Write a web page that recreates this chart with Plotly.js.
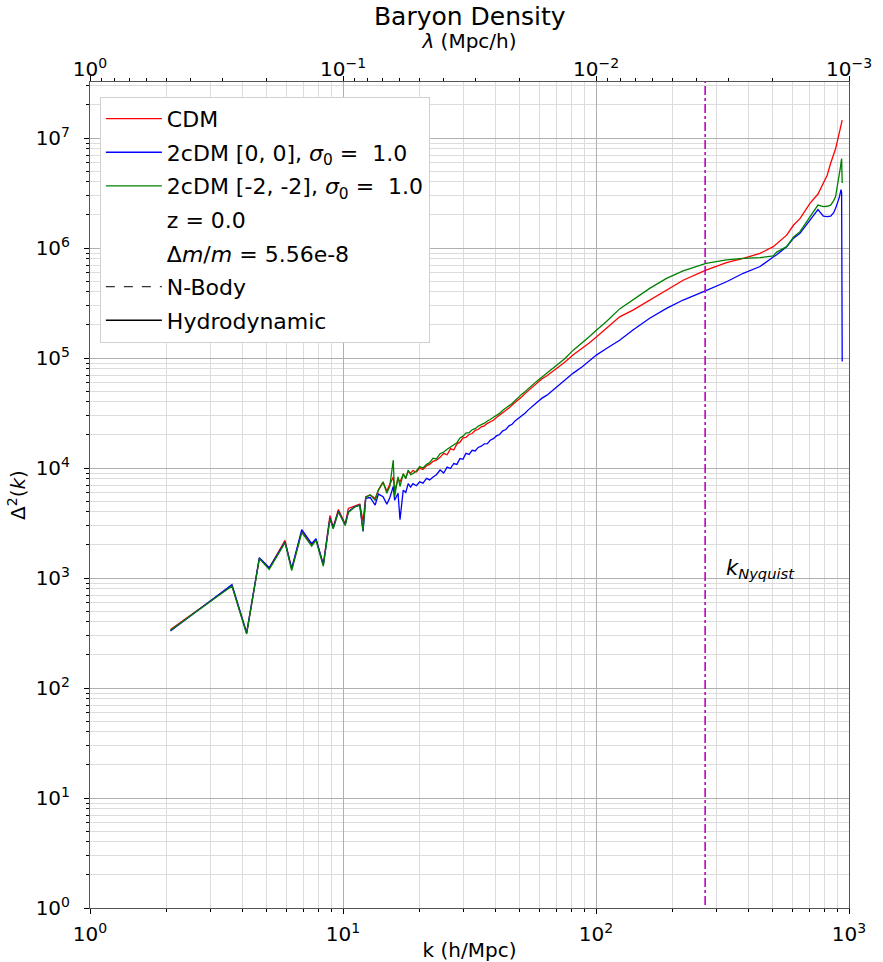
<!DOCTYPE html>
<html>
<head>
<meta charset="utf-8">
<script src="https://cdn.plot.ly/plotly-3.0.1.min.js"></script>
<style>html,body{margin:0;padding:0;background:#fff;}#chart{width:883px;height:962px;}</style>
</head>
<body>
<div id="chart"></div>
<script>
// wavenumber bins k (h/Mpc)
const k = [2.08, 3.64, 4.16, 4.67, 5.11, 5.90, 6.27, 6.87, 7.52, 7.82, 8.36, 8.88, 9.15, 9.59, 10.2, 10.5, 11.1, 11.65, 12.0,
  12.3, 12.8, 13.4, 13.8, 14.4, 14.9, 15.3, 15.8, 16.0, 16.5, 16.8, 17.3, 17.7, 18.1, 18.5, 18.9, 19.5, 20.1, 20.7, 21.4, 22.0,
  22.7, 23.4, 24.2, 25.0, 25.8, 26.6, 27.4, 28.2, 29.0, 29.8, 30.6, 31.5, 32.4, 33.3, 34.2, 35.2, 36.2, 37.2, 38.2, 39.3, 40.4,
  41.6, 42.8, 44.0, 45.3, 46.6, 48.0, 49.4, 50.9, 52.4, 54, 55.6, 57.3, 59, 61, 64, 70,
  75, 81.3, 88, 94, 100.6, 110, 124, 140, 163, 190, 221, 272, 328, 382, 445, 502, 518, 567, 604, 640, 701, 754, 792, 820, 846,
  870, 885, 895, 907, 917, 926, 930, 935, 940];

const cdm = [340, 850, 314, 1510, 1230, 2200, 1210, 2650, 2000, 2250, 1330, 3700, 2900, 4200, 3100, 4300, 4500, 4700, 3300,
  5500, 5700, 5300, 6300, 7400, 6200, 7000, 8300, 6200, 8000, 7500, 8700, 8200, 9300, 9000, 9500, 9200, 10000, 9700, 10500, 10800,
  11500, 11800, 12500, 13600, 13200, 15000, 14600, 16600, 17200, 18800, 19000, 20200, 20600, 22000, 22400, 23700, 24200, 25500, 26200, 27200, 28800,
  30300, 31500, 33500, 35200, 37400, 39500, 42000, 44500, 47500, 50500, 53500, 57000, 61000, 64500, 69000, 80600,
  91000, 107000, 122000, 137000, 156000, 185000, 237000, 273000, 337000, 415000, 510000, 630000, 736000, 805000, 895000, 1030000, 1100000, 1310000, 1620000, 1850000, 2550000, 3100000, 3900000, 4600000, 5900000,
  7000000, 8000000, 8900000, 10000000, 11200000, 12500000, 13000000, 13800000, 14600000];

const c2dm00 = [330, 870, 318, 1530, 1240, 2120, 1220, 2750, 2050, 2280, 1320, 3500, 2850, 4050, 3050, 4000, 4450, 4600, 2650,
  5300, 5400, 4600, 5800, 5500, 4700, 5350, 6800, 5100, 5900, 3400, 6300, 6000, 7200, 6700, 7200, 6900, 7500, 7300, 8050, 7800,
  8300, 8700, 9600, 9000, 10200, 9900, 11000, 10800, 12200, 12000, 13600, 13300, 14500, 14300, 15400, 15800, 16600, 16700, 17900, 18500, 19600,
  20200, 21800, 22400, 24200, 25000, 27000, 28300, 30200, 31500, 33800, 35500, 38000, 40300, 43000, 46000, 55000,
  62000, 73000, 83000, 94000, 107000, 122000, 145000, 180000, 230000, 283000, 337000, 410000, 494000, 590000, 680000, 830000, 870000, 1030000, 1230000, 1360000, 1800000, 2240000, 1950000, 1930000, 1950000,
  2100000, 2300000, 2450000, 2700000, 2940000, 3200000, 3400000, 3200000, 93000];

const c2dm22 = [335, 845, 310, 1500, 1200, 2100, 1170, 2600, 1950, 2200, 1280, 3450, 2800, 4000, 3000, 3950, 4400, 4600, 2700,
  5400, 5700, 5100, 6300, 7500, 5900, 6800, 11800, 5500, 8300, 6800, 8900, 8000, 9600, 8700, 8900, 9400, 10300, 10000, 10800, 11200,
  12300, 12100, 13500, 14000, 14800, 15600, 16400, 17000, 18800, 19500, 20800, 21000, 22300, 22800, 24000, 24700, 25600, 26800, 27600, 29000, 30200,
  31400, 33500, 34800, 36800, 38600, 41500, 44000, 47000, 49500, 53000, 55800, 59500, 63000, 67000, 72000, 86000,
  98000, 118000, 136000, 156000, 180000, 215000, 280000, 337000, 430000, 530000, 620000, 726000, 780000, 805000, 820000, 850000, 920000, 1030000, 1260000, 1410000, 1930000, 2460000, 2380000, 2400000, 2460000,
  2700000, 2940000, 3400000, 3900000, 4450000, 5500000, 6000000, 6500000, 3900000];

const kNyquist = 270;
const yTickVals = [1, 10, 100, 1e3, 1e4, 1e5, 1e6, 1e7];
const yTickText = ['10<sup>0</sup>', '10<sup>1</sup>', '10<sup>2</sup>', '10<sup>3</sup>', '10<sup>4</sup>', '10<sup>5</sup>', '10<sup>6</sup>', '10<sup>7</sup>'];
const kTickVals = [1, 10, 100, 1000];
const kTickText = ['10<sup>0</sup>', '10<sup>1</sup>', '10<sup>2</sup>', '10<sup>3</sup>'];
const lamTickVals = [1, 0.1, 0.01, 0.001];
const lamTickText = ['10<sup>0</sup>', '10<sup>\u22121</sup>', '10<sup>\u22122</sup>', '10<sup>\u22123</sup>'];

function minorVals(lo, hi) {
  const v = [];
  for (let e = lo; e < hi; e++) for (let m = 2; m <= 9; m++) v.push(m * Math.pow(10, e));
  return v;
}

const font = 'DejaVu Sans, sans-serif';
const traces = [
  {x: k, y: cdm, name: 'CDM', mode: 'lines', line: {color: '#ff0000', width: 1.3}, legendgroup: 'a'},
  {x: k, y: c2dm00, name: '2cDM [0, 0], <i>σ</i><sub>0</sub> =  1.0', mode: 'lines', line: {color: '#0000ff', width: 1.3}, legendgroup: 'b'},
  {x: k, y: c2dm22, name: '2cDM [-2, -2], <i>σ</i><sub>0</sub> =  1.0', mode: 'lines', line: {color: '#008000', width: 1.3}, legendgroup: 'c'},
  {x: [null], y: [null], name: 'z = 0.0', mode: 'lines', line: {color: 'rgba(0,0,0,0)', width: 1}, legendgroup: 'd'},
  {x: [null], y: [null], name: 'Δ<i>m</i>/<i>m</i> = 5.56e-8', mode: 'lines', line: {color: 'rgba(0,0,0,0)', width: 1}, legendgroup: 'e'},
  {x: [null], y: [null], name: 'N-Body', mode: 'lines', line: {color: '#333333', width: 1.2, dash: 'dash'}, legendgroup: 'f'},
  {x: [null], y: [null], name: 'Hydrodynamic', mode: 'lines', line: {color: '#000000', width: 1.3}, legendgroup: 'g'},
  {x: [kNyquist, kNyquist], y: [0.5, 1e8], mode: 'lines', line: {color: '#bf00bf', width: 1.6, dash: 'dashdot'}, showlegend: false, hoverinfo: 'skip'},
  {x: [1, 0.001], y: [null, null], xaxis: 'x2', mode: 'lines', showlegend: false, hoverinfo: 'skip'}
];

const layout = {
  width: 883, height: 962,
  margin: {l: 90, r: 34, t: 82, b: 54},
  paper_bgcolor: '#ffffff', plot_bgcolor: '#ffffff',
  font: {family: font, color: '#000000'},
  title: {text: 'Baryon Density', font: {size: 25, family: font}, x: 0.532, xanchor: 'center', y: 0.983, yanchor: 'middle'},
  showlegend: true,
  legend: {x: 0.013, y: 0.982, xanchor: 'left', yanchor: 'top', bgcolor: '#ffffff', bordercolor: '#d0d0d0', borderwidth: 1,
           font: {size: 22, family: font}, traceorder: 'grouped', tracegroupgap: 2, itemwidth: 56},
  xaxis: {
    type: 'log', range: [0, 3], autorange: false,
    tickmode: 'array', tickvals: kTickVals, ticktext: kTickText,
    tickfont: {size: 20, family: font},
    ticks: 'outside', ticklen: 5, tickcolor: '#000', ticklabelstandoff: 3,
    showgrid: true, gridcolor: '#b0b0b0', gridwidth: 1,
    minor: {tickmode: 'array', tickvals: minorVals(0, 3), ticks: 'outside', ticklen: 3, tickcolor: '#000', showgrid: true, gridcolor: '#dcdcdc', gridwidth: 1},
    showline: true, linecolor: '#555', linewidth: 1, mirror: false,
    zeroline: false,
    title: {text: 'k (h/Mpc)', font: {size: 20, family: font}, standoff: 0}
  },
  xaxis2: {
    type: 'log', range: [0, -3], autorange: false, overlaying: 'x', side: 'top', anchor: 'y',
    tickmode: 'array', tickvals: lamTickVals, ticktext: lamTickText,
    tickfont: {size: 20, family: font},
    ticks: 'outside', ticklen: 5, tickcolor: '#000', ticklabelstandoff: -8,
    showgrid: false,
    minor: {tickmode: 'array', tickvals: minorVals(-3, 0), ticks: 'outside', ticklen: 3, tickcolor: '#000', showgrid: false},
    showline: true, linecolor: '#555', linewidth: 1,
    zeroline: false,
    title: {text: '<i>λ</i> (Mpc/h)', font: {size: 20, family: font}, standoff: 0}
  },
  yaxis: {
    type: 'log', range: [0, 7.51], autorange: false,
    tickmode: 'array', tickvals: yTickVals, ticktext: yTickText,
    tickfont: {size: 20, family: font},
    ticks: 'outside', ticklen: 5, tickcolor: '#000', ticklabelstandoff: 10,
    showgrid: true, gridcolor: '#b0b0b0', gridwidth: 1,
    minor: {tickmode: 'array', tickvals: minorVals(0, 8), ticks: 'outside', ticklen: 3, tickcolor: '#000', showgrid: true, gridcolor: '#dcdcdc', gridwidth: 1},
    showline: true, linecolor: '#555', linewidth: 1, mirror: true,
    zeroline: false,
    title: {text: 'Δ<sup>2</sup>(<i>k</i>)', font: {size: 20, family: font}, standoff: 4}
  },
  annotations: [
    {xref: 'paper', yref: 'paper', x: 0.835, y: 0.41, xanchor: 'left', yanchor: 'middle', showarrow: false,
     text: '<i>k</i><sub><i>Nyquist</i></sub>', font: {size: 21, family: font, color: '#000'}}
  ]
};

Plotly.newPlot('chart', traces, layout, {displayModeBar: false, staticPlot: true});
</script>
</body>
</html>
